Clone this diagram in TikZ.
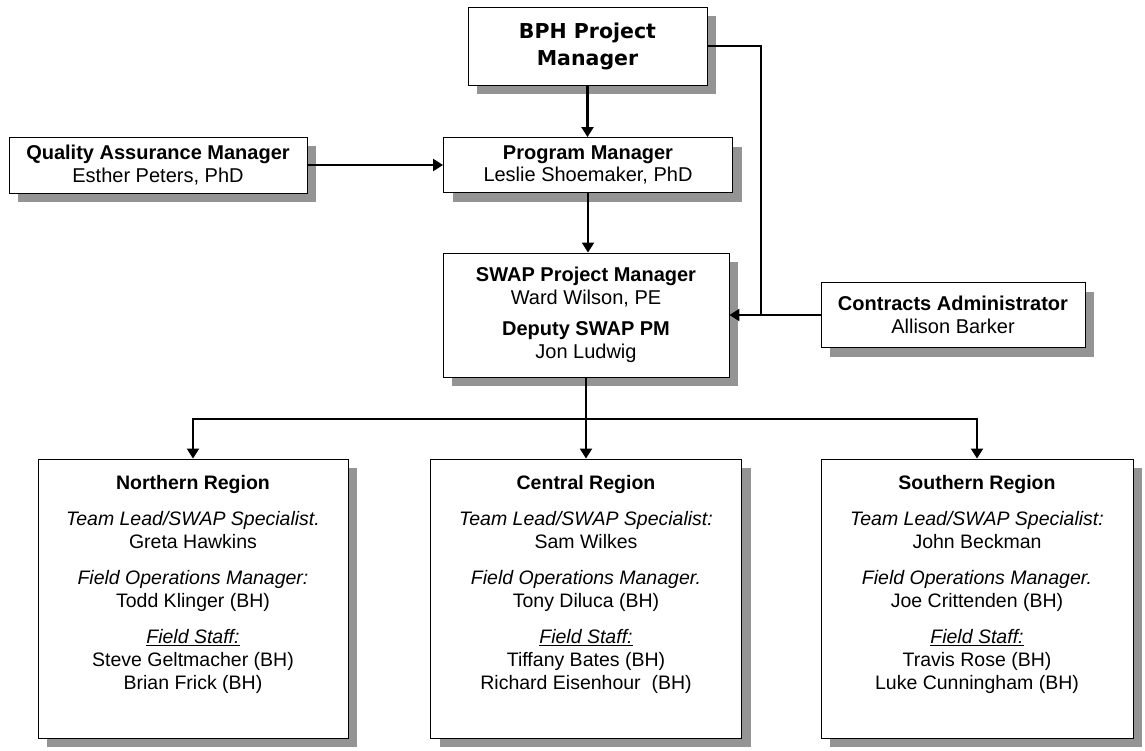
\documentclass[tikz,border=0pt]{standalone}
\usepackage{fontspec}
\setmainfont{Liberation Sans}
\newfontfamily\bphfont{DejaVu Sans}
\usetikzlibrary{arrows.meta,shadows}
\begin{document}
\begin{tikzpicture}[x=1pt,y=-1pt,
  box/.style={draw=black, line width=0.9pt, fill=white, inner sep=0pt, align=center,
    font=\fontsize{20}{22.5}\selectfont,
    drop shadow={shadow xshift=9pt, shadow yshift=-9pt, fill=black!42, opacity=1}},
  regtext/.style={inner sep=0pt, align=center, font=\fontsize{19.5}{23}\selectfont},
  arr/.style={line width=2.2pt, -{Triangle[length=10pt,width=12pt]}},
  link/.style={line width=2.2pt}]
\useasboundingbox (0,0) rectangle (1145,750);

\node[box, minimum width=239pt, minimum height=78pt,
  font=\bphfont\bfseries\fontsize{20.5}{27}\selectfont] (bph) at (587.5,46) {BPH Project\\Manager};
\node[box, minimum width=298pt, minimum height=56pt] (qa) at (158,165)
  {{\bfseries Quality Assurance Manager}\\Esther Peters, PhD};
\node[box, minimum width=289pt, minimum height=55pt] (pm) at (588,165)
  {{\bfseries Program Manager}\\Leslie Shoemaker, PhD};
\node[box, minimum width=286pt, minimum height=124pt] (swap) at (586,315)
  {{\bfseries SWAP Project Manager}\\Ward Wilson, PE\\[9pt]{\bfseries Deputy SWAP PM}\\Jon Ludwig};
\node[box, minimum width=264pt, minimum height=65pt] (ca) at (953,315)
  {{\bfseries Contracts Administrator}\\Allison Barker};

\node[box, minimum width=310pt, minimum height=279pt] (nr) at (193,598.5) {};
\node[box, minimum width=311pt, minimum height=279pt] (cr) at (586,598.5) {};
\node[box, minimum width=312pt, minimum height=279pt] (sr) at (977,598.5) {};

\node[regtext, anchor=north] (nrt) at (193,475)
  {{\bfseries Northern Region}\\[13pt]
   \textit{Team Lead/SWAP Specialist.}\\
   Greta Hawkins\\[13pt]
   \textit{Field Operations Manager:}\\
   Todd Klinger (BH)\\[13pt]
   \underline{\textit{Field Staff:}}\\
   Steve Geltmacher (BH)\\
   Brian Frick (BH)};
\node[regtext, anchor=north] (crt) at (586,475)
  {{\bfseries Central Region}\\[13pt]
   \textit{Team Lead/SWAP Specialist:}\\
   Sam Wilkes\\[13pt]
   \textit{Field Operations Manager.}\\
   Tony Diluca (BH)\\[13pt]
   \underline{\textit{Field Staff:}}\\
   Tiffany Bates (BH)\\
   Richard Eisenhour\ \ (BH)};
\node[regtext, anchor=north] (srt) at (977,475)
  {{\bfseries Southern Region}\\[13pt]
   \textit{Team Lead/SWAP Specialist:}\\
   John Beckman\\[13pt]
   \textit{Field Operations Manager.}\\
   Joe Crittenden (BH)\\[13pt]
   \underline{\textit{Field Staff:}}\\
   Travis Rose (BH)\\
   Luke Cunningham (BH)};

% connectors
\draw[arr] (bph.south) -- (bph.south |- pm.north);
\draw[arr] (qa.east) -- (qa.east -| pm.west);
\draw[arr] (pm.south) -- (pm.south |- swap.north);

\coordinate (j) at (761,315);
\draw[arr] (bph.east) -| (j) -- (swap.east);
\draw[link] (ca.west) -- (j);

\coordinate (hub) at (586,419);
\draw[link] (swap.south) -- (hub);
\draw[arr] (hub) -| (nr.north);
\draw[arr] (hub) -| (sr.north);
\draw[arr] (hub) -- (cr.north);
\end{tikzpicture}
\end{document}
